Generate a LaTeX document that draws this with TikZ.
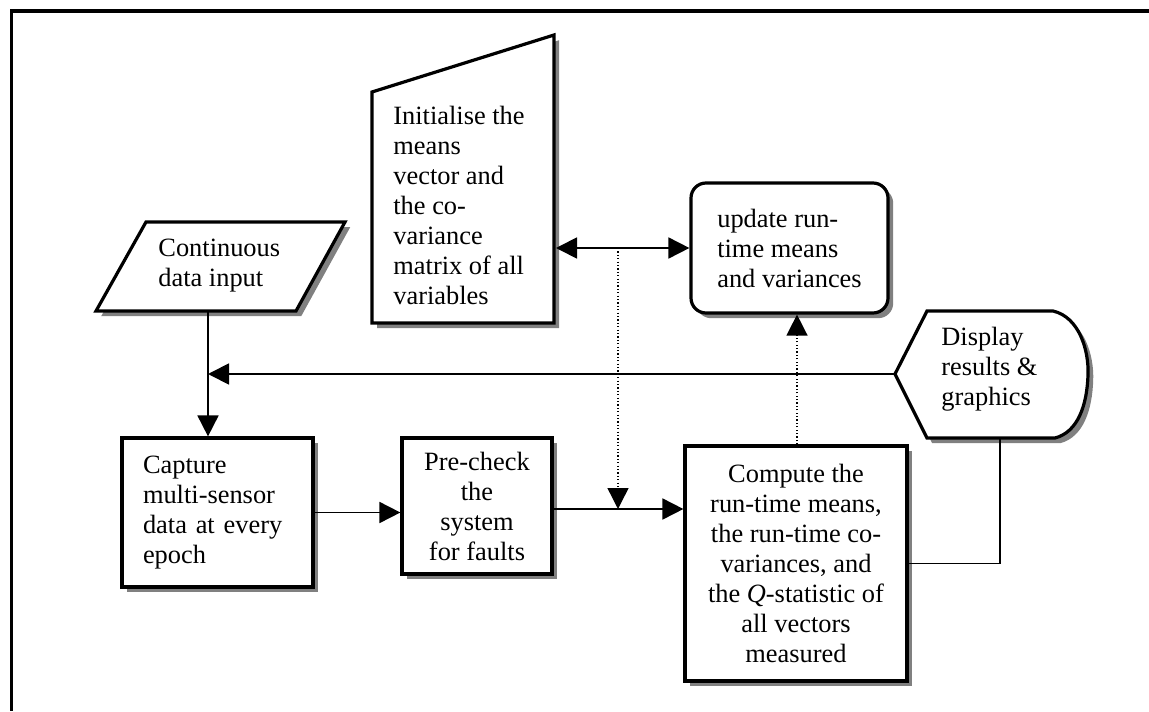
\documentclass[tikz,border=0pt]{standalone}
\usepackage{fontspec}
\setmainfont{Liberation Serif}
\usetikzlibrary{arrows.meta, shadows, positioning}
\newcommand{\flowfont}{\fontsize{13.2}{15}\selectfont}
\tikzset{
  flowshape/.style={draw, line width=1.6pt, fill=white,
    drop shadow={shadow xshift=2.6pt, shadow yshift=-2.6pt, fill=black!50, opacity=1}},
  flowbox/.style={flowshape, inner sep=0pt, font=\flowfont},
  flowtext/.style={inner sep=0pt, font=\flowfont, align=left},
  framebar/.style={line width=1.7pt},
  link/.style={line width=0.9pt},
  dotlink/.style={line width=0.7pt, dash pattern=on 0.6pt off 1.1pt}
}

\begin{document}
\begin{tikzpicture}[x=0.5pt, y=-0.5pt, > = {Triangle[length=10.5pt, width=10.5pt]}]
			\useasboundingbox (0,0) rectangle (1149,711);
			
			%% Rahmen
			\fill [black] (9.8,9.3) rectangle (1149,12.7);
			\fill [black] (9.8,9.3) rectangle (13.2,711);
			
			%% Eingabe
			\draw [flowshape] (146,222) -- (345,222) -- (296,311) -- (96,311) -- cycle;
			\node [flowtext, anchor=west] (input) at (158,266) {Continuous\\data input};
			\coordinate (inS) at (208,311);
			
			%% Initialisierung
			\draw [flowshape] (372,92) -- (554,35) -- (554,323) -- (372,323) -- cycle;
			\node [flowtext, anchor=west] (init) at (393,205)
			{Initialise the\\means\\vector and\\the co-\\variance\\matrix of all\\variables};
			\coordinate (initE) at (556,248);
			
			%% Anzeige
			\draw [flowshape] (895,374) -- (927,311) -- (1053,311)
			.. controls (1079,317) and (1089,350) .. (1088,375)
			.. controls (1087,405) and (1078,432) .. (1055,438) -- (927,438) -- cycle;
			\node [flowtext, anchor=west] (display) at (941,369) {Display\\results \&\\graphics};
			\coordinate (dispW) at (895,374);
			\coordinate (dispS) at (1000,438);
			
			%% Kaesten
			\node [flowbox, minimum width=95.5pt, minimum height=74.5pt, text width=74.5pt,
			inner xsep=10.5pt, align=left] (capture) at (217.5,512.5)
			{Capture\\multi-sensor\\data at every\\epoch};
			
			\node [flowbox, minimum width=75pt, minimum height=68pt, align=center]
			(precheck) at (477,506) {Pre-check\\the\\system\\for faults};
			
			\node [flowbox, minimum width=111pt, minimum height=117.5pt, align=center]
			(compute) at (796,563.5)
			{Compute the\\run-time means,\\the run-time co-\\variances, and\\the \textit{Q}-statistic of\\all vectors\\measured};
			
			\node [flowbox, rounded corners=7.5pt, minimum width=98.5pt, minimum height=65pt,
			align=left] (update) at (789.5,248)
			{update run-\\time means\\and variances};
			
			%% Verbindungen
			\coordinate (tap) at (618,248);
			\coordinate (join) at (618,509);
			\coordinate (upx) at (797,0);
			
			\draw [link, ->] (inS) -- (capture.north -| inS);
			\draw [link, ->] (dispW) -- (dispW -| inS);
			\draw [link, ->] (capture.east) -- (capture.east -| precheck.west);
			\draw [link, ->] (precheck.east |- join) -- (compute.west |- join);
			\draw [link, <->] (initE) -- (update.west);
			\draw [dotlink, ->] (tap) -- (join);
			\draw [dotlink, ->] (compute.north -| upx) -- (update.south -| upx);
			\draw [link] (dispS) |- (compute.east);
		\end{tikzpicture}
\end{document}
